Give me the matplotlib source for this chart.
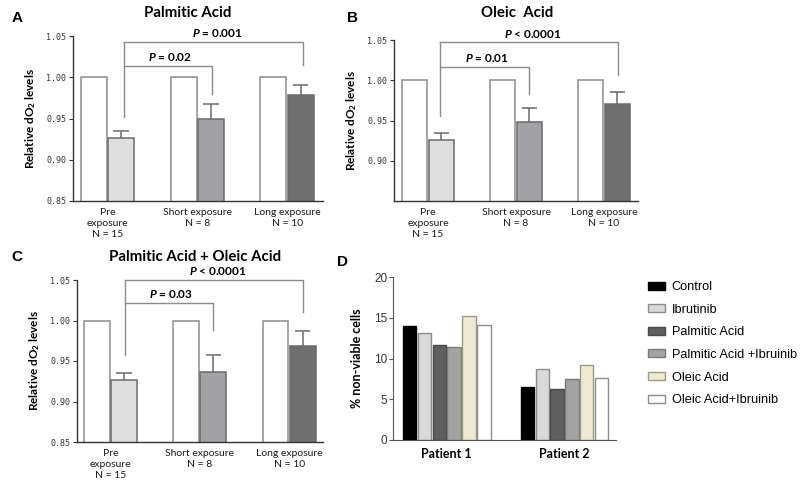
import numpy as np
import matplotlib.pyplot as plt
from matplotlib.patches import Patch

plt.rcParams['mathtext.fontset'] = 'custom'
plt.rcParams['mathtext.rm'] = 'Lato:bold'
plt.rcParams['mathtext.it'] = 'Lato:bold:italic'
plt.rcParams['mathtext.bfit'] = 'Lato:bold:italic'

# data
groups = ["Pre\nexposure\nN = 15", "Short exposure\nN = 8", "Long exposure\nN = 10"]
control = [1.0, 1.0, 1.0]

# A - palmitic acid
palm_mean = [0.926, 0.950, 0.978]
palm_err = [0.009, 0.018, 0.013]
palm_p = ["= 0.02", "= 0.001"]

# B - oleic acid
ole_mean = [0.926, 0.948, 0.971]
ole_err = [0.009, 0.018, 0.015]
ole_p = ["= 0.01", "< 0.0001"]

# C - palmitic + oleic
mix_mean = [0.926, 0.936, 0.969]
mix_err = [0.009, 0.022, 0.018]
mix_p = ["= 0.03", "< 0.0001"]

# D - % non-viable cells
patients = ["Patient 1", "Patient 2"]
treatments = ["Control", "Ibrutinib", "Palmitic Acid", "Palmitic Acid +Ibruinib",
              "Oleic Acid", "Oleic Acid+Ibruinib"]
d_control = [14.0, 6.5]
d_ibru = [13.1, 8.7]
d_palm = [11.65, 6.25]
d_palm_ibru = [11.4, 7.5]
d_oleic = [15.2, 9.15]
d_oleic_ibru = [14.1, 7.6]

W, H = 800, 483
fig = plt.figure(figsize=(8, 4.83), dpi=100)


def rect(l, t, r, b):
    return [l / W, 1 - b / H, (r - l) / W, (b - t) / H]


fills = ['#dedede', '#a2a2a6', '#6f6f6f']
LAB = 'Lato'


def exposure_panel(box, xlim, means, errs, ptxt, ticks, brk, title, tpos, letter, lpos):
    ax = fig.add_axes(rect(*box))
    x = np.arange(3)
    off, w = 0.152, 0.29
    means = np.array(means)
    errs = np.array(errs)
    ax.bar(x - off, control, w, color='white', edgecolor='#8c8c8c', lw=1.1, zorder=2)
    ax.bar(x + off, means, w, color=fills, edgecolor='#6a6a6a', lw=1.1, zorder=2)
    ax.vlines(x + off, means, means + errs, color='#6a6a6a', lw=1.1, zorder=1)
    ax.hlines(means + errs, x + off - 0.085, x + off + 0.085, color='#6a6a6a', lw=1.1)
    # significance brackets
    xl, xr1, xr2, y1, y2, dl, dr1, dr2 = brk
    kw = dict(color='#8a8a8a', lw=1.0, clip_on=False)
    ax.plot([xl, xl], [dl, y2], **kw)
    ax.plot([xl, xr1, xr1], [y1, y1, dr1], **kw)
    ax.plot([xl, xr2, xr2], [y2, y2, dr2], **kw)
    ax.annotate(r"$\mathit{P}$ " + ptxt[0], ((xl + xr1) / 2 + 0.02, y1), xytext=(0, 2),
                textcoords='offset points', ha='center', va='bottom',
                family=LAB, weight='bold', fontsize=8.5, annotation_clip=False)
    ax.annotate(r"$\mathit{P}$ " + ptxt[1], ((xl + xr2) / 2 + 0.04, y2), xytext=(0, 2),
                textcoords='offset points', ha='center', va='bottom',
                family=LAB, weight='bold', fontsize=8.5, annotation_clip=False)
    ax.set_ylim(0.85, 1.05)
    ax.set_xlim(*xlim)
    ax.set_yticks(ticks)
    ax.set_yticklabels(["%.2f" % t for t in ticks], family='DejaVu Sans Mono',
                       fontsize=6, color='#333333')
    ax.set_xticks(x)
    ax.set_xticklabels(groups, family=LAB, fontsize=7.5, linespacing=1.3, color='#1a1a1a')
    ax.tick_params(axis='x', length=0, pad=5)
    ax.tick_params(axis='y', length=3, width=0.8, color='#333333', pad=2)
    for s in ['top', 'right']:
        ax.spines[s].set_visible(False)
    for s in ['left', 'bottom']:
        ax.spines[s].set_color('#333333')
        ax.spines[s].set_linewidth(1.0)
    ax.set_ylabel(r"Relative dO$_2$ levels", family=LAB, weight='bold', fontsize=8.5, labelpad=6)
    fig.text(tpos[0] / W, 1 - tpos[1] / H, title, family=LAB, weight='bold',
             fontsize=10.8, ha='center', va='center')
    fig.text(lpos[0] / W, 1 - lpos[1] / H, letter, family='Liberation Sans', weight='bold',
             fontsize=11, ha='center', va='center')
    return ax


exposure_panel((73, 36, 323, 201), (-0.383, 2.4), palm_mean, palm_err, palm_p,
               [0.85, 0.90, 0.95, 1.00, 1.05],
               (0.19, 1.167, 2.178, 1.0136, 1.043, 0.952, 0.98, 1.015),
               "Palmitic Acid", (188, 13), "A", (17, 18))
exposure_panel((394, 40, 638, 201), (-0.386, 2.386), ole_mean, ole_err, ole_p,
               [0.90, 0.95, 1.00, 1.05],
               (0.136, 1.153, 2.159, 1.017, 1.047, 0.955, 0.983, 1.006),
               "Oleic  Acid", (517, 13), "B", (352, 18))
exposure_panel((77, 280, 323, 442), (-0.375, 2.38), mix_mean, mix_err, mix_p,
               [0.85, 0.90, 0.95, 1.00, 1.05],
               (0.16, 1.146, 2.157, 1.022, 1.05, 0.957, 0.988, 1.011),
               "Palmitic Acid + Oleic Acid", (195, 257), "C", (17, 257))

# panel D
axd = fig.add_axes(rect(393, 277, 616, 440))
series = [d_control, d_ibru, d_palm, d_palm_ibru, d_oleic, d_oleic_ibru]
d_fill = ['#000000', '#d9d9d9', '#5f5f5f', '#a3a3a3', '#efeacf', '#ffffff']
d_edge = ['#000000', '#8c8c8c', '#4a4a4a', '#7a7a7a', '#9a9a8a', '#8c8c8c']
xp = np.arange(len(patients))
step, bw = 0.126, 0.114
handles = []
for i, vals in enumerate(series):
    pos = xp + (i - 2.5) * step
    axd.bar(pos, vals, bw, color=d_fill[i], edgecolor=d_edge[i], lw=1.0)
    handles.append(Patch(facecolor=d_fill[i], edgecolor=d_edge[i], lw=1.0))
axd.set_xlim(-0.457, 1.4375)
axd.set_ylim(0, 20)
axd.set_yticks([0, 5, 10, 15, 20])
axd.set_yticklabels(["0", "5", "10", "15", "20"], family='Liberation Sans', fontsize=8.5,
                    color='#333333')
axd.set_xticks(xp)
axd.set_xticklabels(patients, family=LAB, weight='bold', fontsize=9)
axd.tick_params(axis='x', length=0, pad=6)
axd.tick_params(axis='y', length=3, width=0.8, color='#555555', pad=1)
for s in ['top', 'right']:
    axd.spines[s].set_visible(False)
for s in ['left', 'bottom']:
    axd.spines[s].set_color('#555555')
axd.set_ylabel("% non-viable cells", family=LAB, weight='bold', fontsize=9, labelpad=8)
fig.text(343 / W, 1 - 262 / H, "D", family='Liberation Sans', weight='bold',
         fontsize=11, ha='center', va='center')
fig.legend(handles, treatments, loc='upper left', bbox_to_anchor=(643 / W, 1 - 276 / H),
           frameon=False, handlelength=1.33, handleheight=0.6, labelspacing=0.83,
           handletextpad=0.52, borderaxespad=0,
           prop={'family': 'Liberation Sans', 'size': 9.2})

plt.savefig("out.png", dpi=100)
